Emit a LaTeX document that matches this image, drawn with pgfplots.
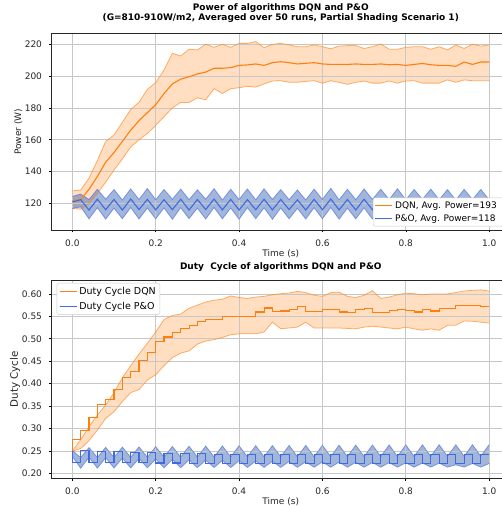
\documentclass[border=0pt]{standalone}
\usepackage{fontspec}
\setmainfont{DejaVu Sans}
\usepackage{pgfplots}
\usepackage{pgfplotstable}
\pgfplotsset{compat=1.18}
\definecolor{dqn}{RGB}{255,127,14}
\definecolor{po}{RGB}{65,105,225}
\definecolor{pofill}{RGB}{70,110,180}

\pgfplotstableread{
t m u l
0.00 122.0 128.0 117.0
0.02 122.5 128.5 116.5
0.04 129.0 136.0 120.0
0.06 137.0 147.0 126.5
0.08 146.0 159.0 133.5
0.10 152.0 163.0 141.0
0.12 159.0 171.0 148.0
0.14 166.0 179.0 155.5
0.16 172.0 183.5 160.0
0.18 177.0 191.6 164.0
0.20 182.0 195.8 169.0
0.22 189.0 203.7 174.5
0.24 195.0 214.2 180.0
0.26 198.0 212.5 183.4
0.28 199.5 216.7 183.4
0.30 201.2 216.3 186.3
0.32 202.4 219.8 185.0
0.34 204.8 217.9 192.0
0.36 204.8 219.8 189.0
0.38 205.2 217.9 192.0
0.40 206.6 220.4 192.6
0.42 206.9 220.4 193.5
0.44 207.5 221.5 193.0
0.46 206.6 217.7 195.0
0.48 208.3 219.8 196.8
0.50 208.9 220.4 197.0
0.52 208.3 219.4 196.0
0.54 207.5 218.3 196.0
0.56 207.9 218.3 196.6
0.58 208.3 219.4 197.0
0.60 207.5 218.3 195.4
0.62 207.2 217.0 197.0
0.64 207.2 218.7 196.0
0.66 207.2 219.0 194.7
0.68 207.5 219.0 196.0
0.70 207.2 217.2 196.8
0.72 207.2 218.3 195.5
0.74 207.5 220.0 195.5
0.76 207.0 216.7 196.8
0.78 207.2 216.7 195.5
0.80 206.6 217.9 196.8
0.82 207.2 218.3 197.0
0.84 207.8 218.3 195.5
0.86 207.0 216.7 195.5
0.88 206.6 218.3 195.5
0.90 206.6 216.3 197.5
0.92 206.0 219.4 196.0
0.94 208.7 217.2 197.5
0.96 207.2 219.8 197.0
0.98 208.7 218.7 197.0
1.00 208.7 219.4 197.0
}\pdqn

\pgfplotstableread{
t m u l
0.00 121.0 124.5 117.0
0.02 122.5 126.0 118.0
0.04 116.0 122.5 110.5
0.06 122.8 129.0 117.5
0.08 116.2 122.8 110.3
0.10 122.6 128.8 117.2
0.12 116.0 122.3 110.6
0.14 122.9 129.2 117.6
0.16 116.3 122.6 110.4
0.18 122.7 129.5 117.3
0.20 116.1 122.4 110.5
0.22 122.5 128.9 117.4
0.24 116.2 122.7 110.2
0.26 122.8 129.1 117.5
0.28 116.0 122.5 110.6
0.30 122.6 128.7 117.2
0.32 116.3 122.8 110.4
0.34 122.9 129.4 117.6
0.36 116.1 122.3 110.5
0.38 122.7 129.0 117.3
0.40 116.0 122.6 110.3
0.42 122.5 129.2 117.5
0.44 116.2 122.4 110.6
0.46 122.8 129.3 117.4
0.48 116.1 122.7 110.2
0.50 122.6 128.8 117.3
0.52 116.3 122.5 110.5
0.54 122.4 128.6 117.1
0.56 116.0 122.3 110.4
0.58 122.7 129.1 117.5
0.60 116.2 122.6 110.6
0.62 122.9 129.6 117.6
0.64 116.1 122.4 110.3
0.66 122.6 129.0 117.2
0.68 116.0 122.5 110.5
0.70 122.8 129.2 117.4
0.72 116.2 122.7 110.4
0.74 122.5 129.0 117.3
0.76 116.1 122.6 110.5
0.78 122.7 129.3 117.5
0.80 116.3 122.4 110.3
0.82 122.6 128.9 117.2
0.84 116.0 122.7 110.6
0.86 122.8 129.1 117.4
0.88 116.2 122.5 110.4
0.90 122.5 128.8 117.3
0.92 116.1 122.3 110.5
0.94 122.7 129.0 117.5
0.96 116.3 122.6 110.3
0.98 122.6 128.9 117.2
1.00 116.0 122.4 110.5
}\ppo

\pgfplotstableread{
t m u l
0.00 0.2500 0.2500 0.2500
0.02 0.2746 0.2750 0.2550
0.04 0.2954 0.3040 0.2730
0.06 0.3250 0.3300 0.2965
0.08 0.3526 0.3520 0.3225
0.10 0.3637 0.3800 0.3374
0.12 0.3860 0.4130 0.3600
0.14 0.4128 0.4400 0.3800
0.16 0.4277 0.4660 0.3870
0.18 0.4520 0.4900 0.4080
0.20 0.4685 0.5150 0.4200
0.22 0.4930 0.5430 0.4400
0.24 0.5040 0.5520 0.4580
0.26 0.5130 0.5550 0.4680
0.28 0.5230 0.5680 0.4730
0.30 0.5300 0.5750 0.4880
0.32 0.5390 0.5820 0.4950
0.34 0.5430 0.5860 0.4980
0.36 0.5430 0.5880 0.5030
0.38 0.5500 0.5955 0.5090
0.40 0.5500 0.5920 0.5110
0.42 0.5500 0.5900 0.5110
0.44 0.5500 0.5930 0.5110
0.46 0.5597 0.5946 0.5150
0.48 0.5686 0.5980 0.5370
0.50 0.5610 0.6005 0.5225
0.52 0.5620 0.6020 0.5240
0.54 0.5650 0.6057 0.5260
0.56 0.5710 0.6030 0.5370
0.58 0.5610 0.5970 0.5240
0.60 0.5610 0.5946 0.5240
0.62 0.5650 0.6028 0.5240
0.64 0.5650 0.6040 0.5240
0.66 0.5597 0.5946 0.5230
0.68 0.5580 0.5920 0.5220
0.70 0.5650 0.5970 0.5260
0.72 0.5670 0.6070 0.5280
0.74 0.5580 0.5900 0.5260
0.76 0.5580 0.5930 0.5240
0.78 0.5630 0.5980 0.5220
0.80 0.5660 0.6015 0.5260
0.82 0.5630 0.6005 0.5220
0.84 0.5597 0.5980 0.5190
0.86 0.5650 0.6000 0.5220
0.88 0.5620 0.6000 0.5190
0.90 0.5670 0.6000 0.5300
0.92 0.5670 0.6030 0.5300
0.94 0.5745 0.6065 0.5396
0.96 0.5745 0.6080 0.5390
0.98 0.5745 0.6090 0.5370
1.00 0.5710 0.6065 0.5350
}\ddqn

\pgfplotstableread{
t m u l
0.00 0.2500 0.2510 0.2380
0.02 0.2240 0.2350 0.2115
0.04 0.2500 0.2575 0.2360
0.06 0.2238 0.2352 0.2118
0.08 0.2490 0.2580 0.2350
0.10 0.2236 0.2355 0.2120
0.12 0.2480 0.2585 0.2340
0.14 0.2235 0.2356 0.2122
0.16 0.2470 0.2590 0.2330
0.18 0.2233 0.2358 0.2124
0.20 0.2460 0.2595 0.2320
0.22 0.2232 0.2360 0.2125
0.24 0.2450 0.2600 0.2310
0.26 0.2230 0.2361 0.2127
0.28 0.2440 0.2605 0.2300
0.30 0.2228 0.2362 0.2128
0.32 0.2435 0.2608 0.2295
0.34 0.2226 0.2364 0.2130
0.36 0.2430 0.2612 0.2288
0.38 0.2225 0.2365 0.2131
0.40 0.2428 0.2615 0.2282
0.42 0.2224 0.2366 0.2132
0.44 0.2430 0.2618 0.2276
0.46 0.2222 0.2367 0.2133
0.48 0.2427 0.2620 0.2270
0.50 0.2221 0.2368 0.2134
0.52 0.2428 0.2622 0.2265
0.54 0.2220 0.2369 0.2135
0.56 0.2426 0.2624 0.2260
0.58 0.2219 0.2370 0.2136
0.60 0.2427 0.2626 0.2256
0.62 0.2218 0.2371 0.2136
0.64 0.2425 0.2628 0.2252
0.66 0.2217 0.2372 0.2137
0.68 0.2426 0.2630 0.2248
0.70 0.2216 0.2373 0.2137
0.72 0.2425 0.2632 0.2244
0.74 0.2215 0.2374 0.2138
0.76 0.2426 0.2634 0.2240
0.78 0.2214 0.2375 0.2138
0.80 0.2424 0.2635 0.2236
0.82 0.2213 0.2376 0.2139
0.84 0.2425 0.2636 0.2232
0.86 0.2212 0.2377 0.2139
0.88 0.2424 0.2638 0.2228
0.90 0.2211 0.2378 0.2140
0.92 0.2425 0.2636 0.2190
0.94 0.2210 0.2379 0.2140
0.96 0.2424 0.2639 0.2222
0.98 0.2210 0.2380 0.2140
1.00 0.2424 0.2640 0.2220
}\dpo

\pgfplotsset{
  /pgf/number format/assume math mode=true,
  geomtop/.style={at={(51.5pt,276pt)}, anchor=south west, scale only axis,
    width=458.5pt, height=196.7pt, xmin=-0.05, xmax=1.05, ymin=103.5, ymax=226.7},
  geombot/.style={at={(51.5pt,27.7pt)}, anchor=south west, scale only axis,
    width=458.5pt, height=198.3pt, xmin=-0.05, xmax=1.05, ymin=0.189, ymax=0.631},
  bandaxis/.style={hide axis, stack plots=y},
  common/.style={
    xtick={0,0.2,0.4,0.6,0.8,1.0},
    xticklabel={\pgfmathprintnumber[fixed,fixed zerofill,precision=1]{\tick}},
    grid=major,
    major grid style={black!22, line width=0.7pt},
    tick pos=left, tick align=outside, major tick length=2.5pt,
    major tick style={black, line width=0.6pt},
    axis line style={black!85, line width=0.6pt},
    tick label style={font=\fontsize{9}{10}\selectfont, text=black!85},
    xticklabel style={yshift=-3.5pt},
    yticklabel style={xshift=-3.5pt},
    label style={font=\fontsize{9}{10}\selectfont, text=black!85},
    xlabel style={at={(axis description cs:0.5,0)}, anchor=center, yshift=-23.3pt},
    legend cell align=left,
  },
  band/.style={line width=0.8pt, draw opacity=0.6, forget plot},
  meanline/.style={line width=1.1pt, forget plot},
}

\begin{document}
\begin{tikzpicture}
\fill[white] (0,0) rectangle (501pt,506pt);

% ---- top panel: bands
\begin{axis}[geomtop, bandaxis]
\addplot[draw=none] table[x=t, y=l] {\pdqn};
\addplot[draw=none, fill=dqn, fill opacity=0.25] table[x=t, y expr=\thisrow{u}-\thisrow{l}] {\pdqn} \closedcycle;
\end{axis}
\begin{axis}[geomtop, bandaxis]
\addplot[draw=none] table[x=t, y=l] {\ppo};
\addplot[draw=none, fill=pofill, fill opacity=0.5] table[x=t, y expr=\thisrow{u}-\thisrow{l}] {\ppo} \closedcycle;
\end{axis}

% ---- top panel: main axis
\begin{axis}[geomtop, common,
  ytick={120,140,160,180,200,220},
  xlabel={Time (s)}, ylabel={Power (W)},
  ylabel style={at={(axis description cs:-0.0724,0.5)}, anchor=center},
  title={Power of algorithms DQN and P\&O\\(G=810-910W/m2, Averaged over 50 runs, Partial Shading Scenario 1)},
  title style={align=center, font=\fontsize{9}{10.3}\selectfont\bfseries, at={(axis description cs:0.5,1)}, anchor=center, yshift=14.3pt},
  legend style={at={(0.7012,0.1645)}, anchor=north west, font=\fontsize{9}{10}\selectfont,
    draw=black!20, rounded corners=2pt, fill=white,
    inner sep=1.5pt, row sep=1pt},
]
\addplot[dqn, band] table[x=t, y=u] {\pdqn};
\addplot[dqn, band] table[x=t, y=l] {\pdqn};
\addplot[po, band] table[x=t, y=u] {\ppo};
\addplot[po, band] table[x=t, y=l] {\ppo};
\addplot[dqn, meanline] table[x=t, y=m] {\pdqn};
\addplot[po, meanline] table[x=t, y=m] {\ppo};
\addlegendimage{line legend, draw=dqn, line width=1.3pt}
\addlegendentry{DQN, Avg. Power=193\hphantom{.00 W}}
\addlegendimage{line legend, draw=po, line width=1.3pt}
\addlegendentry{P\&O, Avg. Power=118\hphantom{.00 W}}
\end{axis}

% ---- bottom panel: bands
\begin{axis}[geombot, bandaxis]
\addplot[draw=none] table[x=t, y=l] {\ddqn};
\addplot[draw=none, fill=dqn, fill opacity=0.25] table[x=t, y expr=\thisrow{u}-\thisrow{l}] {\ddqn} \closedcycle;
\end{axis}
\begin{axis}[geombot, bandaxis]
\addplot[draw=none] table[x=t, y=l] {\dpo};
\addplot[draw=none, fill=pofill, fill opacity=0.5] table[x=t, y expr=\thisrow{u}-\thisrow{l}] {\dpo} \closedcycle;
\end{axis}

% ---- bottom panel: main axis
\begin{axis}[geombot, common,
  ytick={0.20,0.25,0.30,0.35,0.40,0.45,0.50,0.55,0.60},
  yticklabel={\pgfmathprintnumber[fixed,fixed zerofill,precision=2]{\tick}},
  xlabel={Time (s)}, ylabel={Duty Cycle},
  ylabel style={at={(axis description cs:-0.0796,0.5)}, anchor=center, font=\fontsize{10.3}{11}\selectfont},
  title={Duty\ \ Cycle of algorithms DQN and P\&O},
  title style={font=\fontsize{9}{10.3}\selectfont\bfseries, at={(axis description cs:0.5,1)}, anchor=center, yshift=7.3pt},
  legend style={at={(0.0113,0.985)}, anchor=north west, font=\fontsize{9.5}{10.5}\selectfont,
    draw=black!20, rounded corners=2pt, fill=white,
    inner sep=2pt, row sep=2pt},
]
\addplot[dqn, band] table[x=t, y=u] {\ddqn};
\addplot[dqn, band] table[x=t, y=l] {\ddqn};
\addplot[po, band] table[x=t, y=u] {\dpo};
\addplot[po, band] table[x=t, y=l] {\dpo};
\addplot[dqn, meanline, const plot mark right] table[x=t, y=m] {\ddqn};
\addplot[po, meanline, const plot mark right] table[x=t, y=m] {\dpo};
\addlegendimage{line legend, draw=dqn, line width=1.3pt}
\addlegendentry{Duty Cycle DQN}
\addlegendimage{line legend, draw=po, line width=1.3pt}
\addlegendentry{Duty Cycle P\&O}
\end{axis}

\pgfresetboundingbox
\useasboundingbox (0,0) rectangle (501pt,506pt);
\end{tikzpicture}
\end{document}
